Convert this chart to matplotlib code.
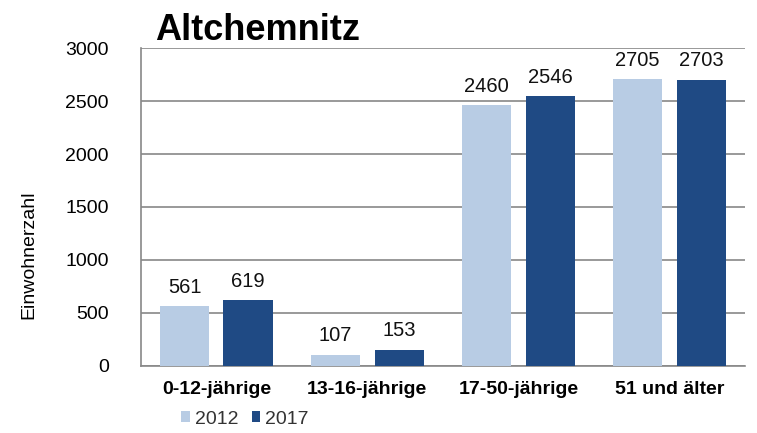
import matplotlib.pyplot as plt
import numpy as np

plt.rcParams['font.family'] = ['Liberation Sans', 'DejaVu Sans']

categories = ['0-12-jährige', '13-16-jährige', '17-50-jährige', '51 und älter']
years = ['2012', '2017']
values_2012 = [561, 107, 2460, 2705]
values_2017 = [619, 153, 2546, 2703]
yticks = [0, 500, 1000, 1500, 2000, 2500, 3000]

light = '#B8CCE4'
dark = '#1F4A84'

fig = plt.figure(figsize=(7.57, 4.33), dpi=100)
ax = fig.add_axes([0.186, 0.155, 0.798, 0.734])

x = np.arange(len(categories))
w = 0.325
b1 = ax.bar(x - 0.21, values_2012, w, color=light, label=years[0], zorder=3)
b2 = ax.bar(x + 0.21, values_2017, w, color=dark, label=years[1], zorder=3)

for bars, vals in ((b1, values_2012), (b2, values_2017)):
    for r, v in zip(bars, vals):
        ax.text(r.get_x() + r.get_width() / 2, v + 90, str(v),
                ha='center', va='bottom', fontsize=14.5, color='#111111')

ax.set_xlim(-0.5, 3.5)
ax.set_ylim(0, 3000)
ax.set_yticks(yticks)
ax.set_yticklabels([str(t) for t in yticks], fontsize=14)
ax.set_xticks(x)
ax.set_xticklabels(categories, fontsize=14, fontweight='bold')
ax.tick_params(axis='x', length=0, pad=11)
ax.tick_params(axis='y', length=0, pad=23)
ax.yaxis.grid(True, color='#888888', linewidth=1.2, zorder=0)
for s in ('top', 'right'):
    ax.spines[s].set_visible(False)
ax.spines['left'].set_color('#888888')
ax.spines['bottom'].set_color('#888888')
ax.spines['left'].set_linewidth(1.2)
ax.spines['bottom'].set_linewidth(1.2)

ax.set_ylabel('Einwohnerzahl', fontsize=14)
ax.yaxis.set_label_coords(-0.172, 0.35)

fig.text(0.205, 0.908, 'Altchemnitz', fontsize=26, fontweight='bold', ha='left', va='baseline')

ax.legend(loc='upper left', bbox_to_anchor=(0.044, -0.098), ncol=2, frameon=False,
          fontsize=14, handlelength=0.45, handleheight=0.45, handletextpad=0.25,
          columnspacing=0.7, labelcolor='#333333', borderpad=0.2)

fig.savefig('out.png', dpi=100)
